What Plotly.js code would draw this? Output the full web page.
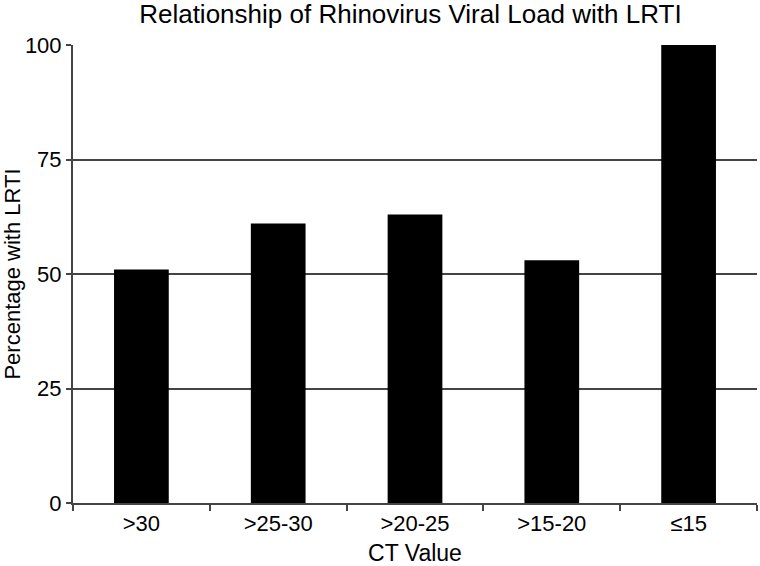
<!DOCTYPE html>
<html>
<head>
<meta charset="utf-8">
<script src="https://cdn.plot.ly/plotly-3.0.1.min.js"></script>
<style>body{margin:0;background:#fff}</style>
</head>
<body>
<div id="plot1" style="width:760px;height:566px"></div>
<script>
var ct_value = ['>30', '>25-30', '>20-25', '>15-20', '\u226415'];
var pct_lrti = [51, 61, 63, 53, 100];

var trace1 = {
  x: ct_value,
  y: pct_lrti,
  type: 'bar',
  marker: {color: '#000000'},
  hoverinfo: 'x+y'
};

var layout = {
  width: 760,
  height: 566,
  margin: {l: 73, r: 3, t: 45, b: 63},
  font: {family: 'Liberation Sans, Arial, sans-serif', color: '#000'},
  title: {
    text: 'Relationship of Rhinovirus Viral Load with LRTI',
    font: {size: 26},
    xref: 'container',
    x: 0.54,
    xanchor: 'center',
    y: 0.975,
    yanchor: 'middle'
  },
  bargap: 0.6,
  showlegend: false,
  xaxis: {
    title: {text: 'CT Value', font: {size: 23}, standoff: 10},
    tickfont: {size: 22},
    showline: true,
    linecolor: '#444',
    linewidth: 2,
    ticks: 'outside',
    tickson: 'boundaries',
    ticklen: 6,
    tickwidth: 2,
    tickcolor: '#444',
    showgrid: false
  },
  yaxis: {
    title: {text: 'Percentage with LRTI', font: {size: 22}, standoff: 6},
    range: [0, 100],
    tickvals: [0, 25, 50, 75, 100],
    tickfont: {size: 22},
    showline: true,
    linecolor: '#444',
    linewidth: 2,
    ticks: 'outside',
    ticklen: 5,
    tickwidth: 2,
    tickcolor: '#444',
    showgrid: true,
    gridcolor: '#444',
    gridwidth: 2,
    zeroline: false
  },
  plot_bgcolor: '#fff',
  paper_bgcolor: '#fff'
};

Plotly.newPlot('plot1', [trace1], layout, {displayModeBar: false});
</script>
</body>
</html>
